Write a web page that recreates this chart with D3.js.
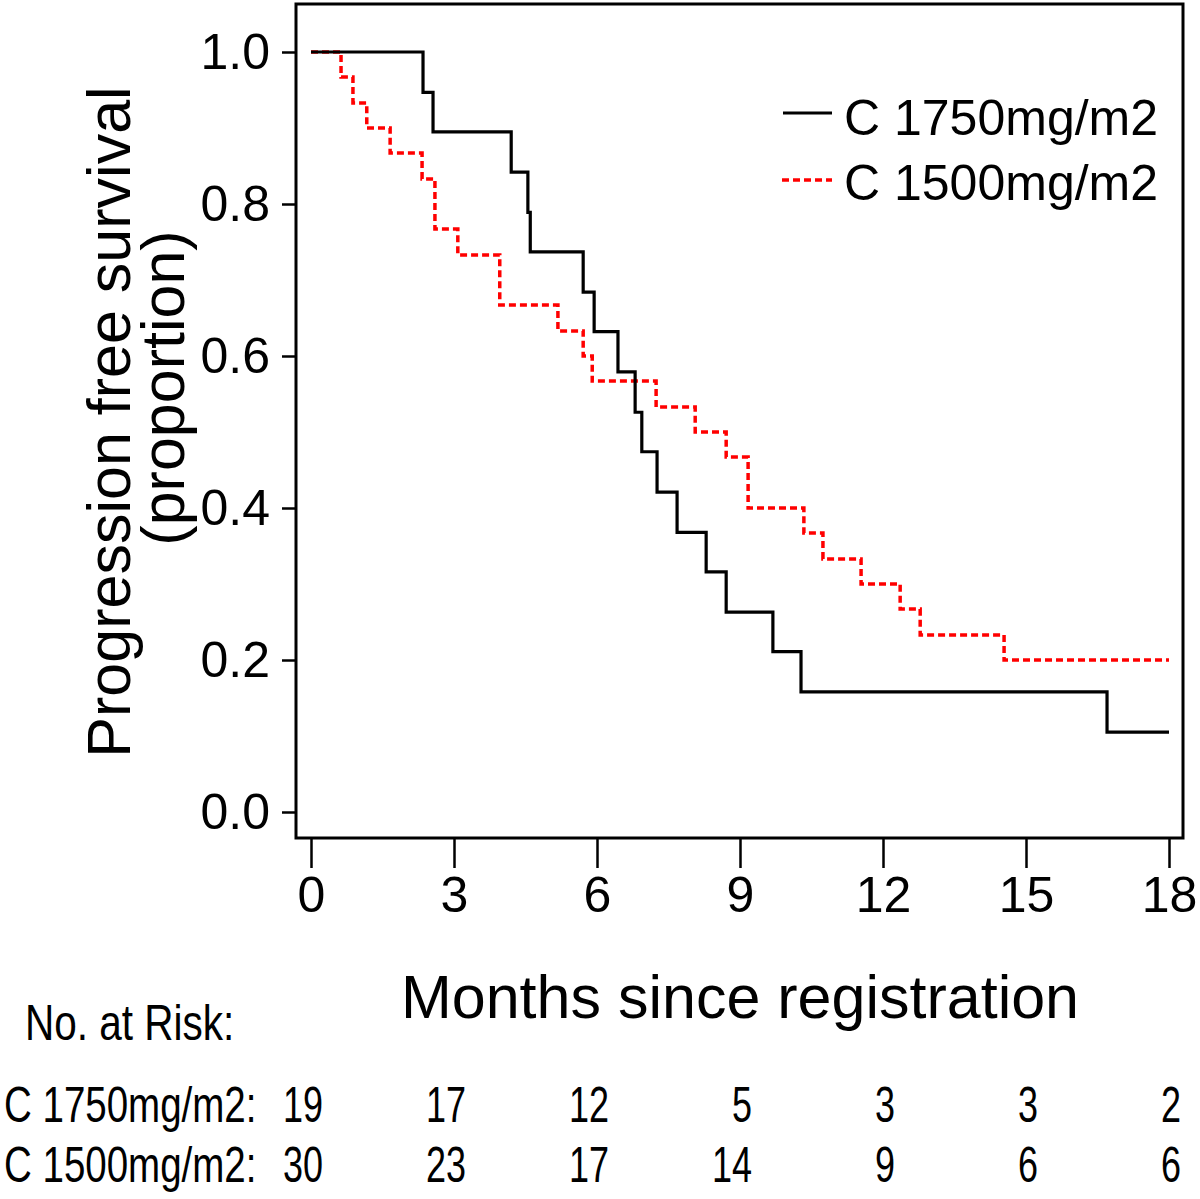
<!DOCTYPE html>
<html>
<head>
<meta charset="utf-8">
<script src="https://cdn.jsdelivr.net/npm/d3@7"></script>
<style>
  body { margin: 0; background: #fff; }
  text { font-family: "Liberation Sans", Arial, sans-serif; fill: #000; }
</style>
</head>
<body>
<script>
// Kaplan-Meier steps (months, proportion after the drop)
var hiTimes = [0, 2.35, 2.56, 4.20, 4.55, 4.60, 5.71, 5.94, 6.44, 6.80, 6.94, 7.26, 7.68, 8.29, 8.71, 9.69, 10.28, 16.70, 18];
var hiSurv  = [1, 0.947, 0.895, 0.842, 0.789, 0.737, 0.684, 0.632, 0.579, 0.526, 0.474, 0.421, 0.368, 0.316, 0.263, 0.211, 0.158, 0.105, 0.105];

var loTimes = [0, 0.63, 0.88, 1.17, 1.66, 2.33, 2.60, 3.08, 3.96, 5.18, 5.71, 5.90, 7.24, 8.06, 8.71, 9.17, 10.34, 10.74, 11.54, 12.36, 12.78, 14.54, 18];
var loSurv  = [1, 0.967, 0.933, 0.900, 0.867, 0.833, 0.767, 0.733, 0.667, 0.633, 0.600, 0.567, 0.533, 0.500, 0.467, 0.400, 0.367, 0.333, 0.300, 0.267, 0.233, 0.200, 0.200];

var seriesNames = ["C 1750mg/m2", "C 1500mg/m2"];
var xTicks = [0, 3, 6, 9, 12, 15, 18];
var yTicks = [0, 0.2, 0.4, 0.6, 0.8, 1.0];
var riskHi = [19, 17, 12, 5, 3, 3, 2];
var riskLo = [30, 23, 17, 14, 9, 6, 6];

var svg = d3.select("body").append("svg").attr("width", 1200).attr("height", 1199);

var x = d3.scaleLinear().domain([0, 18]).range([311, 1169]);
var y = d3.scaleLinear().domain([0, 1]).range([812, 52]);

// frame
svg.append("rect")
    .attr("x", 296).attr("y", 4).attr("width", 887).attr("height", 834)
    .attr("fill", "none").attr("stroke", "#000").attr("stroke-width", 3);

// y axis
var yAxis = svg.append("g").attr("transform", "translate(296,0)")
    .call(d3.axisLeft(y).tickValues(yTicks).tickFormat(d3.format(".1f")).tickSize(14).tickPadding(12));
yAxis.select(".domain").remove();
yAxis.selectAll("line").attr("stroke", "#000").attr("stroke-width", 2.5);
yAxis.selectAll("text").attr("font-size", 50).attr("font-family", "Liberation Sans, Arial, sans-serif").attr("fill", "#000");

// x axis
var xAxis = svg.append("g").attr("transform", "translate(0,838)")
    .call(d3.axisBottom(x).tickValues(xTicks).tickFormat(d3.format("d")).tickSize(30).tickPadding(8));
xAxis.select(".domain").remove();
xAxis.selectAll("line").attr("stroke", "#000").attr("stroke-width", 2.5);
xAxis.selectAll("text").attr("font-size", 50).attr("font-family", "Liberation Sans, Arial, sans-serif").attr("fill", "#000");

// axis titles
svg.append("text")
    .attr("transform", "translate(130,422) rotate(-90)")
    .attr("text-anchor", "middle").attr("font-size", 61)
    .text("Progression free survival");
svg.append("text")
    .attr("transform", "translate(184,388) rotate(-90)")
    .attr("text-anchor", "middle").attr("font-size", 61)
    .text("(proportion)");
svg.append("text")
    .attr("x", 740).attr("y", 1018)
    .attr("text-anchor", "middle").attr("font-size", 61)
    .text("Months since registration");

// curves
var step = d3.line()
    .x(function(d){ return x(d[0]); })
    .y(function(d){ return y(d[1]); })
    .curve(d3.curveStepAfter);

svg.append("path")
    .attr("d", step(d3.zip(loTimes, loSurv)))
    .attr("fill", "none").attr("stroke", "#ff0000")
    .attr("stroke-width", 3.5).attr("stroke-dasharray", "7,4");

svg.append("path")
    .attr("d", step(d3.zip(hiTimes, hiSurv)))
    .attr("fill", "none").attr("stroke", "#000")
    .attr("stroke-width", 3.2);

// legend
var legend = svg.append("g");
legend.append("line").attr("x1", 783).attr("x2", 832).attr("y1", 113).attr("y2", 113)
    .attr("stroke", "#000").attr("stroke-width", 3);
legend.append("line").attr("x1", 782).attr("x2", 832).attr("y1", 180).attr("y2", 180)
    .attr("stroke", "#ff0000").attr("stroke-width", 3.5).attr("stroke-dasharray", "7,4");
legend.selectAll("text").data(seriesNames).enter().append("text")
    .attr("x", 844)
    .attr("y", function(d, i){ return 135 + i * 65; })
    .attr("font-size", 50)
    .text(function(d){ return d; });

// number at risk table (narrow lettering, squeezed horizontally)
function narrow(txt, xx, yy, sx, anchor) {
    svg.append("text")
        .attr("transform", "translate(" + xx + "," + yy + ") scale(" + sx + ",1)")
        .attr("text-anchor", anchor || "start")
        .attr("font-size", 50)
        .text(txt);
}

narrow("No. at Risk:", 25, 1040, 0.81);

var rows = [riskHi, riskLo];
rows.forEach(function(r, i){
    var yy = 1122 + i * 60;
    narrow(seriesNames[i] + ":", 4, yy, 0.77);
    r.forEach(function(d, j){
        narrow(d, x(xTicks[j]) + 12, yy, 0.72, "end");
    });
});
</script>
</body>
</html>
